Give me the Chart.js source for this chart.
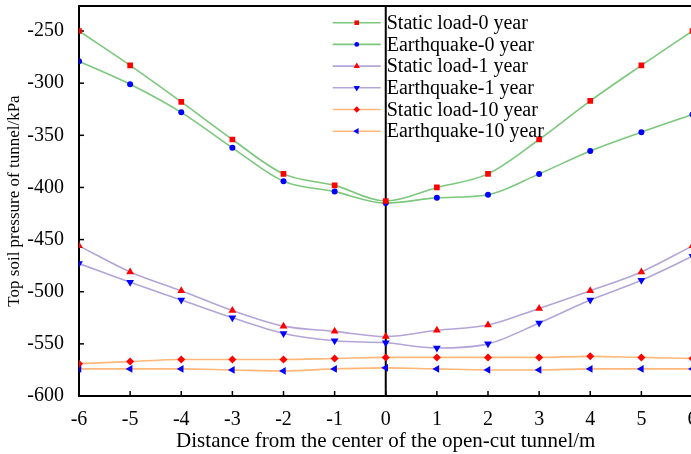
<!DOCTYPE html>
<html>
<head>
<meta charset="utf-8">
<script src="https://cdn.jsdelivr.net/npm/chart.js@4/dist/chart.umd.min.js"></script>
<style>
  html, body { margin: 0; padding: 0; background: #fff; overflow: hidden; }
  #wrap { width: 691px; height: 454px; overflow: hidden; }
</style>
</head>
<body>
<div id="wrap"><canvas id="c" width="697" height="454"></canvas></div>
<script>
// Distance from the tunnel centre (m)
const distance = [-6, -5, -4, -3, -2, -1, 0, 1, 2, 3, 4, 5, 6];

// Top soil pressure (kPa) per case
const staticLoad0  = [-250, -283, -318, -354, -387, -398, -413, -400, -387, -354, -317, -283, -250];
const earthquake0  = [-279, -301, -328, -362, -394, -404, -415, -410, -407, -387, -365, -347, -330];
const staticLoad1  = [-456, -481, -499, -518, -533, -538, -543, -537, -532, -516, -499, -481, -456];
const earthquake1  = [-473, -491, -508, -525, -540, -547, -549, -554, -550, -530, -508, -489, -466];
const staticLoad10 = [-569, -567, -565, -565, -565, -564, -563, -563, -563, -563, -562, -563, -564];
const earthquake10 = [-574, -574, -574, -575, -576, -574, -573, -574, -575, -575, -574, -574, -574];

const seriesNames = [
  'Static load-0 year', 'Earthquake-0 year',
  'Static load-1 year', 'Earthquake-1 year',
  'Static load-10 year', 'Earthquake-10 year'
];
const yTickValues = [-250, -300, -350, -400, -450, -500, -550, -600];

const GREEN = '#7cc87c', PURPLE = '#b3a5d8', ORANGE = '#ffb77a';
const RED = '#ff0000', BLUE = '#0000ff';
const FONT = "'Liberation Serif', 'Times New Roman', serif";

function pts(values) {
  return values.map((v, i) => ({ x: distance[i], y: v }));
}

function series(label, values, lineColor, markColor, style, rotation, radius) {
  return {
    label,
    data: pts(values),
    borderColor: lineColor,
    backgroundColor: markColor,
    pointBackgroundColor: markColor,
    pointBorderColor: markColor,
    pointBorderWidth: 0,
    pointStyle: style,
    rotation: rotation,
    pointRadius: radius,
    pointHoverRadius: radius,
    borderWidth: 1.6,
    cubicInterpolationMode: 'monotone',
    fill: false
  };
}

const datasets = [
  series(seriesNames[0], staticLoad0, GREEN, RED, 'rect', 0, 4),
  series(seriesNames[1], earthquake0, GREEN, BLUE, 'circle', 0, 3),
  series(seriesNames[2], staticLoad1, PURPLE, RED, 'triangle', 0, 4.5),
  series(seriesNames[3], earthquake1, PURPLE, BLUE, 'triangle', 180, 4.5),
  series(seriesNames[4], staticLoad10, ORANGE, RED, 'rectRot', 0, 4),
  series(seriesNames[5], earthquake10, ORANGE, BLUE, 'triangle', 270, 4.5)
];

// Frame, inward tick marks, the centre line and the in-plot legend
const decorations = {
  id: 'decorations',
  beforeDatasetsDraw(chart) {
    const { ctx, chartArea: a, scales: { x, y } } = chart;
    ctx.save();
    ctx.strokeStyle = '#000';
    ctx.lineWidth = 2;
    // top frame line
    ctx.beginPath();
    ctx.moveTo(a.left, a.top);
    ctx.lineTo(a.right + 2, a.top);
    ctx.stroke();
    // vertical line at the tunnel centre
    const x0 = x.getPixelForValue(0);
    ctx.beginPath();
    ctx.moveTo(x0, a.top);
    ctx.lineTo(x0, a.bottom);
    ctx.stroke();
    // inward ticks
    ctx.lineWidth = 1.5;
    yTickValues.forEach(v => {
      const py = y.getPixelForValue(v);
      ctx.beginPath();
      ctx.moveTo(a.left, py);
      ctx.lineTo(a.left + 5, py);
      ctx.stroke();
    });
    distance.forEach(d => {
      const px = x.getPixelForValue(d);
      ctx.beginPath();
      ctx.moveTo(px, a.bottom);
      ctx.lineTo(px, a.bottom - 5);
      ctx.stroke();
    });
    ctx.restore();
  },
  afterDraw(chart) {
    const { ctx, chartArea: a, scales: { x } } = chart;
    const x0 = x.getPixelForValue(0);
    ctx.save();
    chart.data.datasets.forEach((ds, i) => {
      const rowY = a.top + 16.7 + i * 21.7;
      ctx.strokeStyle = ds.borderColor;
      ctx.lineWidth = 1.6;
      ctx.beginPath();
      ctx.moveTo(x0 - 53, rowY);
      ctx.lineTo(x0 - 5, rowY);
      ctx.stroke();
      ctx.fillStyle = ds.pointBackgroundColor;
      ctx.strokeStyle = ds.pointBackgroundColor;
      Chart.helpers.drawPoint(ctx, {
        pointStyle: ds.pointStyle,
        rotation: ds.rotation,
        radius: ds.pointRadius * 0.8,
        borderWidth: 0
      }, x0 - 29, rowY);
      ctx.fillStyle = '#000';
      ctx.font = '20px ' + FONT;
      ctx.textBaseline = 'middle';
      ctx.textAlign = 'left';
      ctx.fillText(ds.label, x0 + 1, rowY + 1);
    });
    ctx.restore();
  }
};

new Chart(document.getElementById('c'), {
  type: 'line',
  data: { datasets },
  plugins: [decorations],
  options: {
    responsive: false,
    animation: false,
    devicePixelRatio: 1,
    layout: { padding: { top: 6, right: 0, bottom: 0, left: 0 } },
    plugins: { legend: { display: false }, tooltip: { enabled: false } },
    scales: {
      x: {
        type: 'linear',
        min: -6, max: 6,
        grid: { display: false },
        border: { color: '#000', width: 2 },
        ticks: {
          stepSize: 1,
          color: '#000',
          padding: 4,
          font: { family: FONT, size: 20 }
        },
        title: {
          display: true,
          text: 'Distance from the center of the open-cut tunnel/m',
          color: '#000',
          font: { family: FONT, size: 21 },
          padding: { top: 0, bottom: 0 }
        },
        afterFit(scale) {
          scale.height = 58;
          scale.paddingLeft = 0;
          scale.paddingRight = 0;
        }
      },
      y: {
        type: 'linear',
        min: -600, max: -226,
        grid: { display: false },
        border: { color: '#000', width: 2 },
        afterBuildTicks(scale) {
          scale.ticks = yTickValues.map(v => ({ value: v }));
        },
        ticks: {
          color: '#000',
          padding: 7,
          font: { family: FONT, size: 20 }
        },
        title: {
          display: true,
          text: 'Top soil pressure of tunnel/kPa',
          color: '#000',
          font: { family: FONT, size: 17 },
          padding: { top: 4, bottom: 0 }
        },
        afterFit(scale) {
          scale.width = 79;
          scale.paddingTop = 0;
          scale.paddingBottom = 0;
        }
      }
    }
  }
});
</script>
</body>
</html>
